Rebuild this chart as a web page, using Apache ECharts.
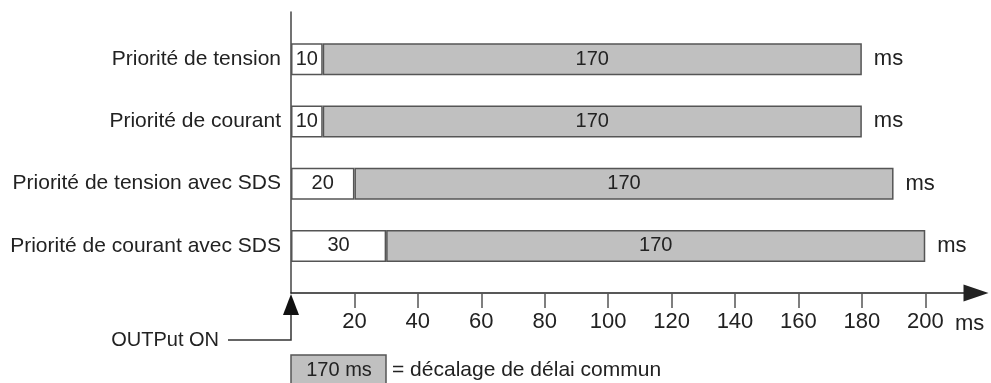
<!DOCTYPE html>
<html><head><meta charset="utf-8">
<script src="https://cdn.jsdelivr.net/npm/echarts@6/dist/echarts.min.js"></script>
<style>html,body{margin:0;padding:0;background:#fff}#c{width:991px;height:383px}</style>
</head><body><div id="c"></div>
<script>
const categories = ['Priorité de tension', 'Priorité de courant', 'Priorité de tension avec SDS', 'Priorité de courant avec SDS'];
const startDelay = [10, 10, 20, 30];
const commonOffset = [170, 170, 170, 170];
const unitMarks = [0, 0, 0, 0];
const tickValues = [20, 40, 60, 80, 100, 120, 140, 160, 180, 200];
const axisMax = 216;
const legendValue = 170;
const unitText = 'ms';
const triggerText = 'OUTPut ON';
const legendText = '= décalage de délai commun';

const FONT = '"Liberation Sans", Arial, Helvetica, sans-serif';
const TXT = '#222';
const BORDER = '#555';
const chart = echarts.init(document.getElementById('c'), null, {renderer: 'canvas'});

const gridLeft = 291, gridWidth = 685;
const option = {
  animation: false,
  textStyle: {fontFamily: FONT},
  grid: [
    {left: gridLeft, top: 12, width: gridWidth, height: 281},
    {left: gridLeft, top: 28, width: gridWidth, height: 249}
  ],
  xAxis: [
    {
      gridIndex: 0, type: 'value', min: 0, max: axisMax,
      axisLine: {show: true, lineStyle: {color: '#222', width: 1.5}, symbol: ['none', 'triangle'], symbolSize: [17, 25]},
      axisTick: {show: true, customValues: tickValues, length: 15, lineStyle: {color: BORDER, width: 1.5}},
      axisLabel: {customValues: tickValues, fontSize: 22, color: TXT, margin: 18, fontFamily: FONT},
      splitLine: {show: false},
      name: unitText, nameLocation: 'end', nameGap: -21,
      nameTextStyle: {fontSize: 22, color: TXT, align: 'left', verticalAlign: 'top', padding: [20, 0, 0, 0], fontFamily: FONT}
    },
    {gridIndex: 1, type: 'value', min: 0, max: axisMax, show: false, splitLine: {show: false}}
  ],
  yAxis: [
    {
      gridIndex: 0, type: 'value', min: 0, max: 1,
      axisLine: {show: true, lineStyle: {color: '#444', width: 1.5}},
      axisTick: {show: false}, axisLabel: {show: false}, splitLine: {show: false}
    },
    {
      gridIndex: 1, type: 'category', data: categories, inverse: true,
      axisLine: {show: false}, axisTick: {show: false},
      axisLabel: {fontSize: 21, color: TXT, margin: 10, fontFamily: FONT}
    }
  ],
  series: [
    {
      type: 'bar', xAxisIndex: 1, yAxisIndex: 1, stack: 't', data: startDelay, barWidth: 32,
      itemStyle: {color: '#ffffff', borderColor: BORDER, borderWidth: 1.5},
      label: {show: true, position: 'inside', fontSize: 20, color: TXT, fontFamily: FONT}
    },
    {
      type: 'bar', xAxisIndex: 1, yAxisIndex: 1, stack: 't', data: commonOffset, barWidth: 32,
      itemStyle: {color: '#c0c0c0', borderColor: BORDER, borderWidth: 1.5},
      label: {show: true, position: 'inside', fontSize: 20, color: TXT, fontFamily: FONT}
    },
    {
      type: 'bar', xAxisIndex: 1, yAxisIndex: 1, stack: 't', data: unitMarks, barWidth: 32,
      itemStyle: {color: 'transparent', borderWidth: 0},
      label: {show: true, position: 'right', distance: 12, formatter: unitText, fontSize: 22, color: TXT, fontFamily: FONT}
    }
  ]
};
chart.setOption(option);

const o = chart.convertToPixel({gridIndex: 0}, [0, 0]);
const ox = o[0], oy = o[1];
chart.setOption({
  graphic: [
    {type: 'text', left: null, x: ox - 72, y: oy + 47, style: {text: triggerText, fontSize: 20, fill: TXT, font: '20px ' + FONT, textAlign: 'right', textVerticalAlign: 'middle'}},
    {type: 'polyline', shape: {points: [[ox - 63, oy + 47], [ox, oy + 47], [ox, oy + 20]]}, style: {stroke: '#333', lineWidth: 1.5, fill: null}},
    {type: 'polygon', shape: {points: [[ox, oy + 1], [ox - 8, oy + 22], [ox + 8, oy + 22]]}, style: {fill: '#111'}},
    {type: 'rect', shape: {x: ox, y: oy + 62, width: 95, height: 34}, style: {fill: '#c0c0c0', stroke: BORDER, lineWidth: 1.5}},
    {type: 'text', x: ox + 48, y: oy + 77, style: {text: legendValue + ' ' + unitText, font: '20px ' + FONT, fill: TXT, textAlign: 'center', textVerticalAlign: 'middle'}},
    {type: 'text', x: ox + 101, y: oy + 77, style: {text: legendText, font: '21px ' + FONT, fill: TXT, textAlign: 'left', textVerticalAlign: 'middle'}}
  ]
});
</script></body></html>
